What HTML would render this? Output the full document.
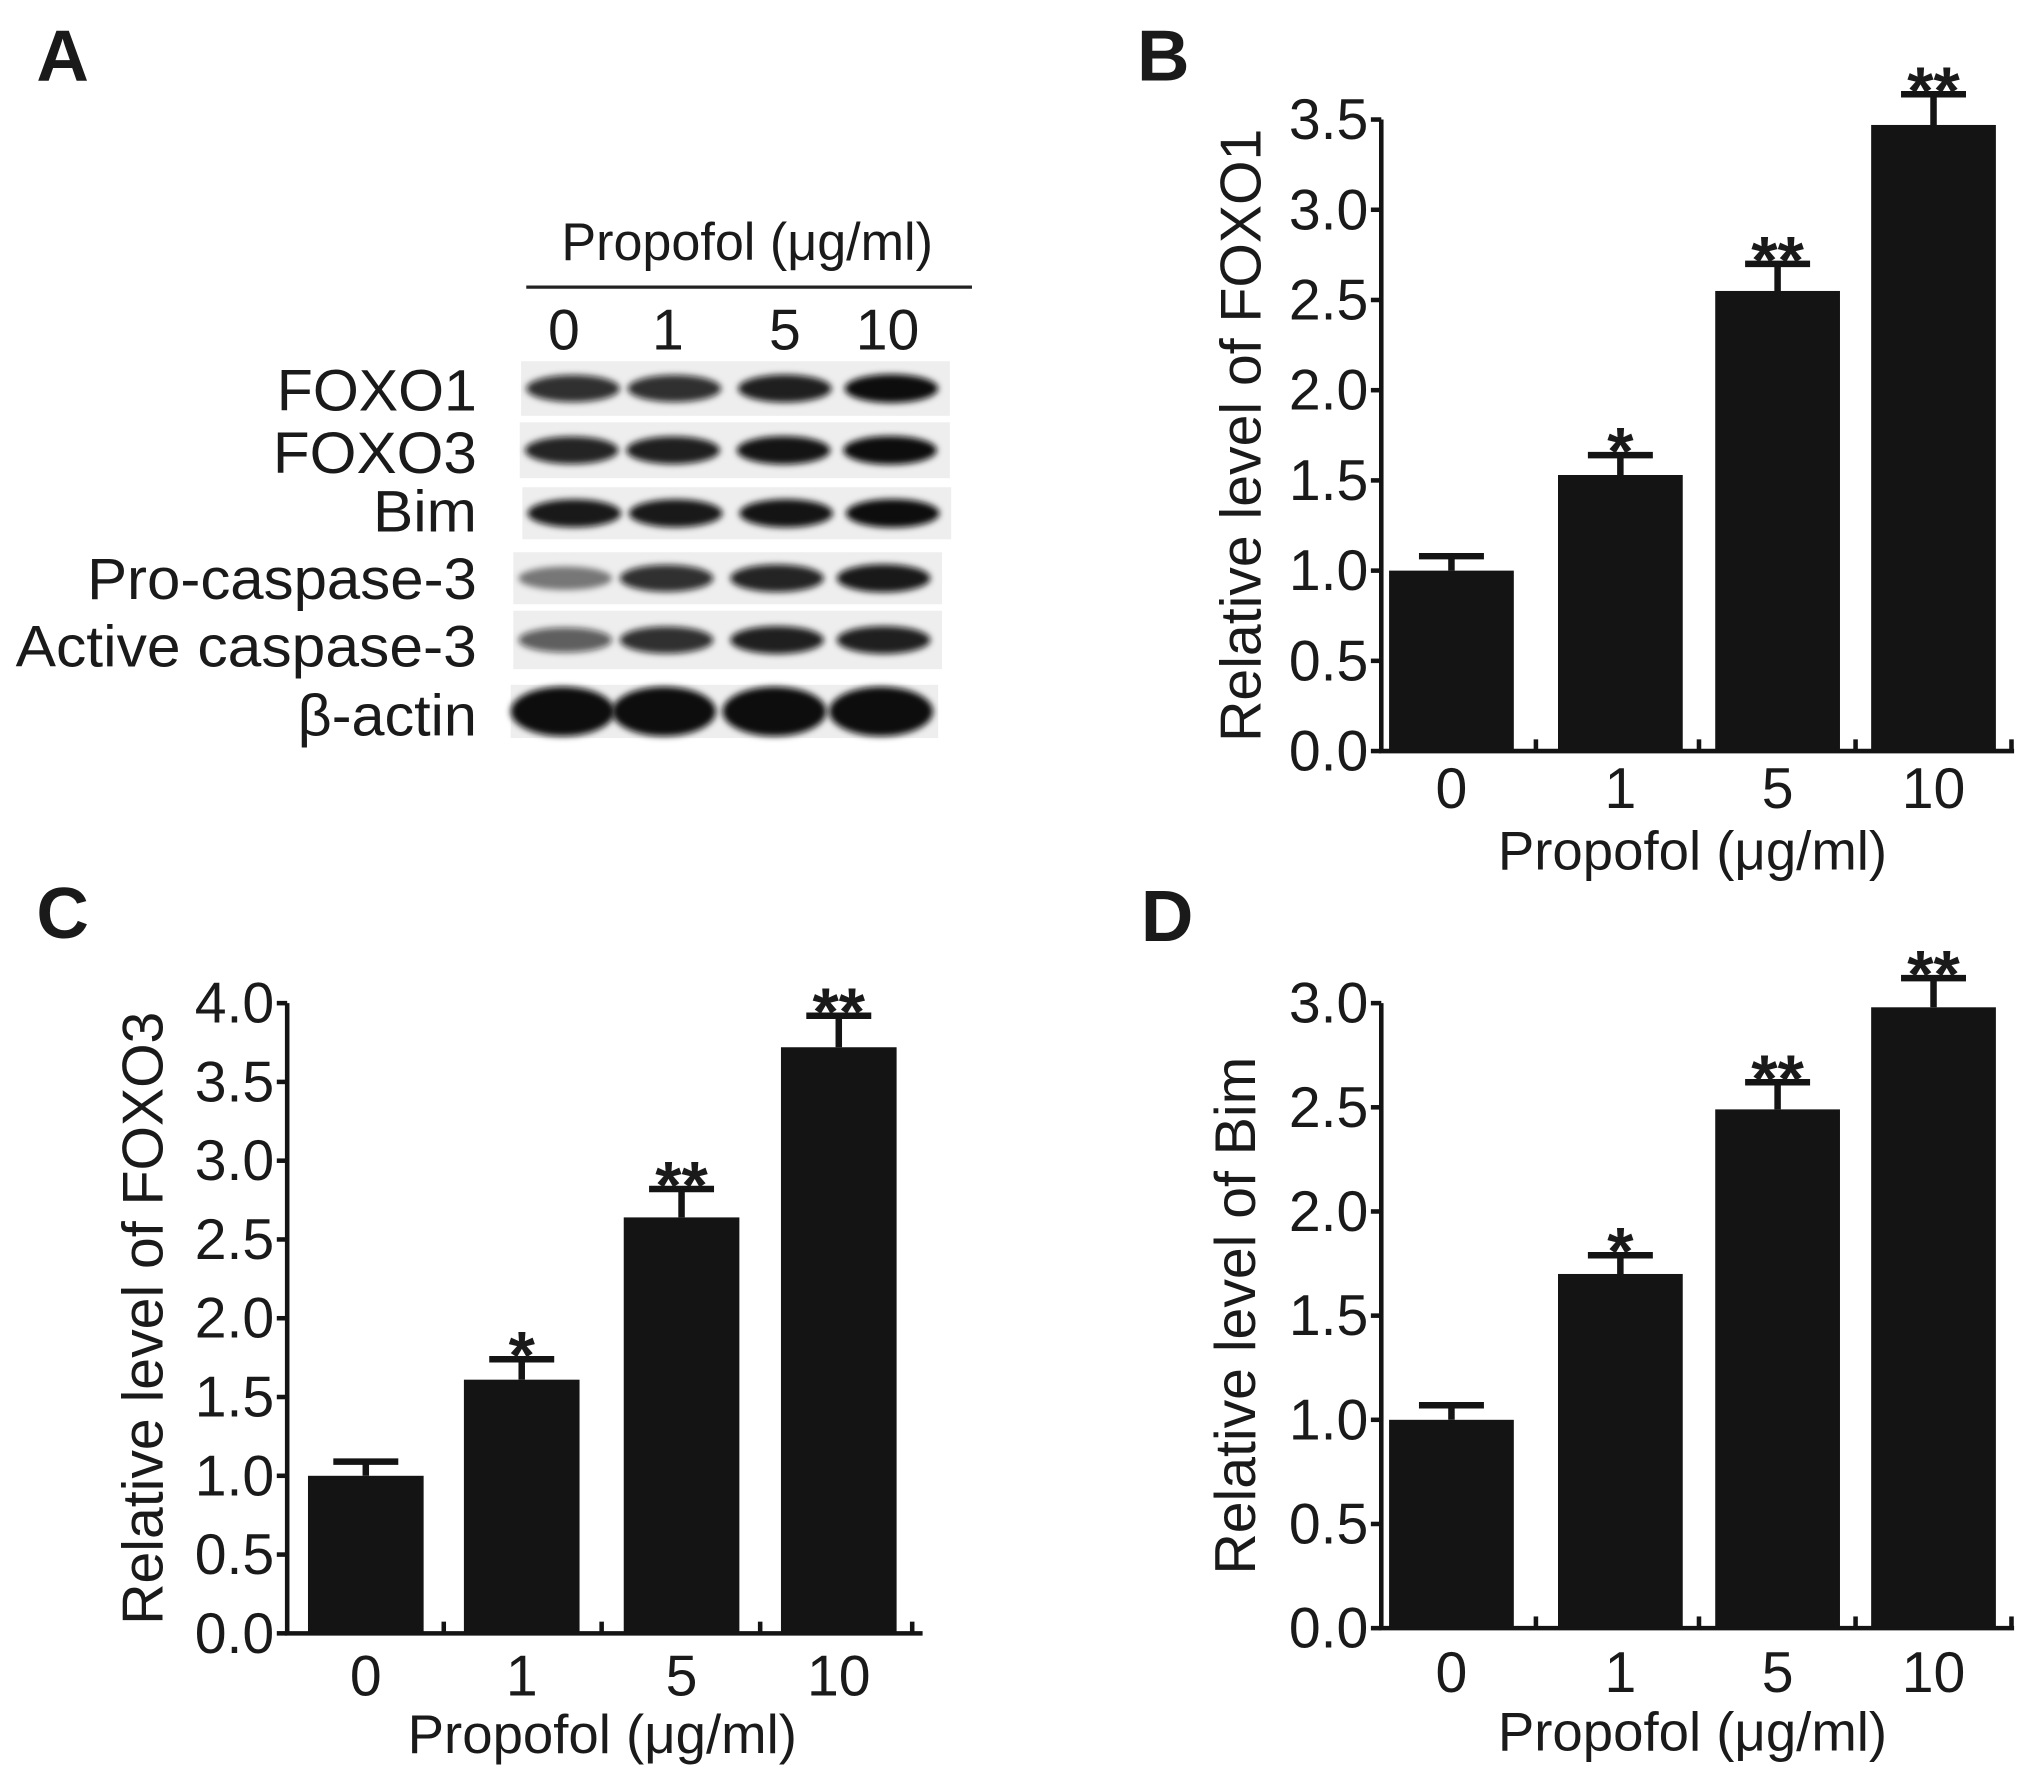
<!DOCTYPE html>
<html><head><meta charset="utf-8"><style>
html,body{margin:0;padding:0;background:#fff;}
svg{display:block;}
text{font-family:"Liberation Sans",sans-serif;fill:#1a1a1a;}
</style></head><body>
<svg id="fig" width="2031" height="1769" viewBox="0 0 1563 1361.4" xmlns="http://www.w3.org/2000/svg">
<defs><filter id="blur" x="-20%" y="-50%" width="140%" height="200%"><feGaussianBlur stdDeviation="2.5"/></filter></defs>
<g>
<text x="28" y="62" font-size="56" font-weight="bold">A</text>
<text x="575" y="200" font-size="41" text-anchor="middle" textLength="286" lengthAdjust="spacingAndGlyphs">Propofol (μg/ml)</text>
<line x1="405" y1="221" x2="748" y2="221" stroke="#222" stroke-width="2.5"/>
<g id="blot"></g>
</g>
<g id="charts"></g>
</svg>
<script>
const NS="http://www.w3.org/2000/svg";
function mk(parent,tag,attrs,txt){const e=document.createElementNS(NS,tag);for(const k in attrs)e.setAttribute(k,attrs[k]);if(txt!==undefined)e.textContent=txt;parent.appendChild(e);return e;}

// ---- Western blot data ----
const laneLabels=["0","1","5","10"];
const laneX=[434,514,604,683];
const blotRows=["FOXO1","FOXO3","Bim","Pro-caspase-3","Active caspase-3","β-actin"];
const blotIntensity=[[0.85,0.85,0.92,1],[0.9,0.92,0.97,1],[0.95,0.95,0.97,1],[0.5,0.85,0.9,0.95],[0.65,0.85,0.92,0.92],[1,1,1,1]];
const stripBoxes=[[401,278,330,42],[400,325,331,43],[402,375,330,40],[395,425,330,40],[395,470,330,45],[393,527,329,41]];
const rowLabelY=[300,348,393,445,497,550];
const rowLabelW=[154,157,80,300,355,138];

const blot=document.getElementById('blot');
laneLabels.forEach((l,i)=>{const t=mk(blot,'text',{x:laneX[i],y:269,'font-size':44,'text-anchor':'middle'},l);

});
blotRows.forEach((r,ri)=>{
  const b=stripBoxes[ri];
  const rect=mk(blot,'rect',{x:b[0],y:b[1],width:b[2],height:b[3],fill:'#eeeeee'});
  
  
  const t=mk(blot,'text',{x:367,y:rowLabelY[ri]+16,'font-size':45,'text-anchor':'end',textLength:rowLabelW[ri],lengthAdjust:'spacingAndGlyphs'},r);
  
  
  const cy=b[1]+b[3]/2;
  blotIntensity[ri].forEach((v,li)=>{
    const w=ri===5?40:36;const h=(ri===5?15:7)+v*4;
    const e=mk(blot,'ellipse',{cx:[b[0]+40,b[0]+118,b[0]+203,b[0]+285][li],cy:cy,rx:w,ry:h,fill:'#0a0a0a','fill-opacity':v,filter:'url(#blur)'});
    
    
  });
});

// ---- Bar chart data ----
const categories=["0","1","5","10"];
const foxo1Values=[1.0,1.53,2.55,3.47];
const foxo1Errors=[0.08,0.11,0.15,0.17];
const foxo3Values=[1.0,1.61,2.64,3.72];
const foxo3Errors=[0.09,0.13,0.18,0.2];
const bimValues=[1.0,1.70,2.49,2.98];
const bimErrors=[0.07,0.09,0.13,0.14];
const sigMarks=["","*","**","**"];
const foxo1Ticks=["0.0","0.5","1.0","1.5","2.0","2.5","3.0","3.5"];
const foxo3Ticks=["0.0","0.5","1.0","1.5","2.0","2.5","3.0","3.5","4.0"];
const bimTicks=["0.0","0.5","1.0","1.5","2.0","2.5","3.0"];

const panels=[
 {id:'b',letter:'B',lx:875,ly:62,ax:1063,ay:578,atop:92,ymax:3.5,xend:1550,vals:foxo1Values,errs:foxo1Errors,ticks:foxo1Ticks,title:'Relative level of FOXO1',tx:970,xl:622,xt:669,barL:[1069,1199,1320,1440],bw:96},
 {id:'c',letter:'C',lx:28,ly:722,ax:221,ay:1257,atop:772,ymax:4.0,xend:710,vals:foxo3Values,errs:foxo3Errors,ticks:foxo3Ticks,title:'Relative level of FOXO3',tx:125,xl:1305,xt:1349,barL:[237,357,480,601],bw:89},
 {id:'d',letter:'D',lx:878,ly:724,ax:1063,ay:1253,atop:772,ymax:3.0,xend:1550,vals:bimValues,errs:bimErrors,ticks:bimTicks,title:'Relative level of Bim',tx:966,xl:1302,xt:1347,barL:[1069,1199,1320,1440],bw:96}
];
const charts=document.getElementById('charts');
panels.forEach(p=>{
  const g=mk(charts,'g',{});
  
  
  const yS=v=>p.ay-(v/p.ymax)*(p.ay-p.atop);
  const L=mk(g,'text',{x:p.lx,y:p.ly,'font-size':56,'font-weight':'bold'},p.letter);
  
  
  p.vals.forEach((v,i)=>{
    const x=p.barL[i],cx=x+p.bw/2;
    const r=mk(g,'rect',{x:x,y:yS(v),width:p.bw,height:p.ay-yS(v),fill:'#141414'});
    
    
    const top=yS(v+p.errs[i]);
    const eb=mk(g,'path',{d:`M${cx} ${yS(v)}V${top}M${cx-25} ${top}H${cx+25}`,stroke:'#141414','stroke-width':5,fill:'none'});
    
    
    if(sigMarks[i]){const s=mk(g,'text',{x:cx,y:top+15,'font-size':52,'font-weight':'bold','text-anchor':'middle'},sigMarks[i]);
      
      }
    const xl=mk(g,'text',{x:cx,y:p.xl,'font-size':44,'text-anchor':'middle'},categories[i]);
    
    
    const tx=p.barL[i]+p.bw+(i<3?(p.barL[i+1]-p.barL[i]-p.bw)/2:12);
    const tk=mk(g,'line',{x1:tx,x2:tx,y1:p.ay,y2:p.ay-9,stroke:'#141414','stroke-width':3.5});
    
    
  });
  const ax=mk(g,'path',{d:`M${p.ax} ${p.atop}V${p.ay}H${p.xend}`,stroke:'#141414','stroke-width':3.5,fill:'none'});
  
  
  p.ticks.forEach((t,i)=>{
    const y=yS(parseFloat(t));
    const tl=mk(g,'line',{x1:p.ax-8,x2:p.ax,y1:y,y2:y,stroke:'#141414','stroke-width':3.5});
    
    
    const tt=mk(g,'text',{x:p.ax-10,y:y+15,'font-size':44,'text-anchor':'end'},t);
    
    
  });
  const cy=(p.ay+p.atop)/2;
  const yt=mk(g,'text',{x:p.tx,y:cy,'font-size':44,'text-anchor':'middle',transform:`rotate(-90 ${p.tx} ${cy})`},p.title);
  
  
  const xcx=(p.barL[0]+p.barL[3]+p.bw)/2;
  const xt=mk(g,'text',{x:xcx,y:p.xt,'font-size':42,'text-anchor':'middle'},'Propofol (μg/ml)');
  
  
});
</script>
</body></html>
